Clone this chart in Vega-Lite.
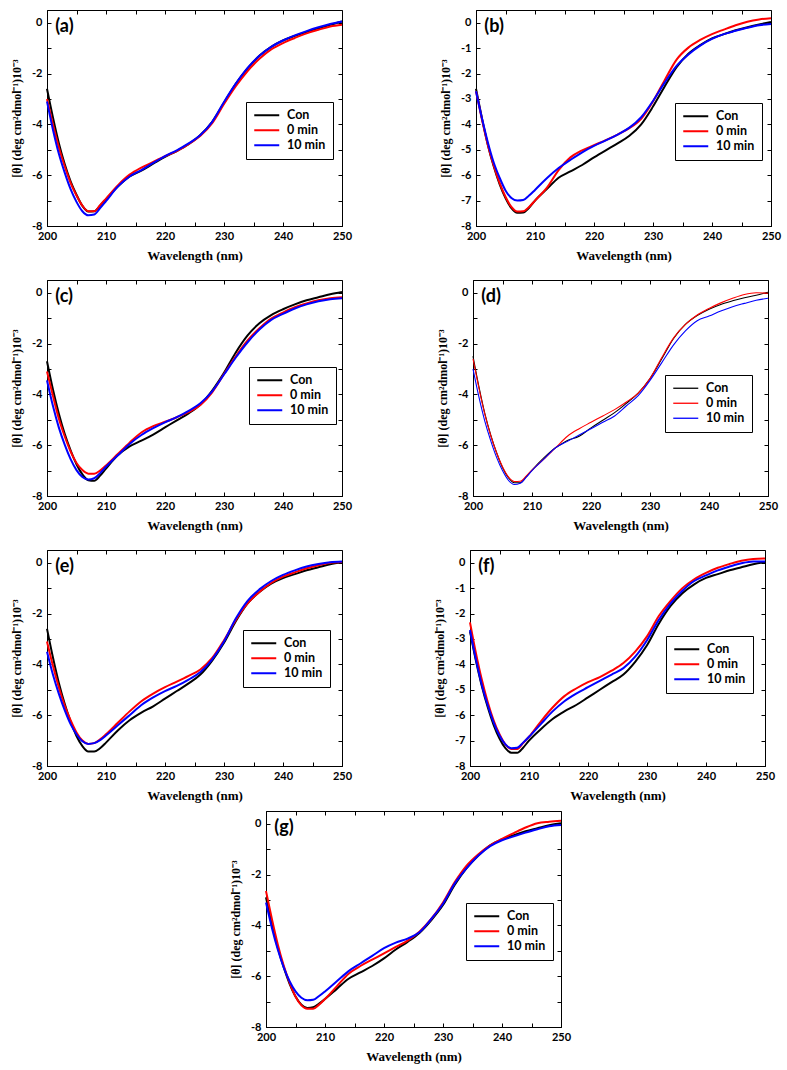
{
"$schema":"https://vega.github.io/schema/vega-lite/v6.json",
"padding":{"left":10,"top":9,"right":5,"bottom":5},
"background":"white",
"config":{
 "view":{"stroke":"black","strokeWidth":1},
 "axis":{"grid":false,"labelFlush":false,"domainColor":"black","domainWidth":1,"tickColor":"black","tickSize":-4,"tickWidth":1,"labelColor":"black","labelFont":"Lato","labelFontWeight":"bold","labelFontSize":11,"labelPadding":8,"titleFont":"Liberation Serif","titleFontWeight":"bold","titleColor":"black"},
 "axisX":{"titleFontSize":13,"titlePadding":8},
 "axisY":{"titleFontSize":12,"titlePadding":8,"labelPadding":9},
 "legend":{"strokeColor":"black","padding":7,"symbolType":"M-2.5,0H2.5","symbolSize":100,"symbolOffset":7.5,"symbolStrokeWidth":2,"labelFont":"Lato","labelFontWeight":"bold","labelFontSize":12.5,"labelColor":"black","labelOffset":14,"rowPadding":2},
 "text":{"font":"Lato","fontWeight":"bold","fontSize":18,"align":"left","baseline":"middle","color":"black"}
},
"datasets":{
"a":[
{"s":"Con","w":200,"v":-2.6},{"s":"Con","w":201,"v":-3.72},{"s":"Con","w":202,"v":-4.73},{"s":"Con","w":203,"v":-5.56},{"s":"Con","w":204,"v":-6.24},{"s":"Con","w":205,"v":-6.77},{"s":"Con","w":206,"v":-7.21},{"s":"Con","w":207,"v":-7.43},{"s":"Con","w":208,"v":-7.42},{"s":"Con","w":209,"v":-7.2},{"s":"Con","w":210,"v":-6.95},{"s":"Con","w":212,"v":-6.45},{"s":"Con","w":214,"v":-6.05},{"s":"Con","w":216,"v":-5.82},{"s":"Con","w":218,"v":-5.55},{"s":"Con","w":220,"v":-5.28},{"s":"Con","w":222,"v":-5.05},{"s":"Con","w":224,"v":-4.78},{"s":"Con","w":226,"v":-4.42},{"s":"Con","w":228,"v":-3.9},{"s":"Con","w":230,"v":-3.15},{"s":"Con","w":232,"v":-2.4},{"s":"Con","w":234,"v":-1.8},{"s":"Con","w":236,"v":-1.3},{"s":"Con","w":238,"v":-0.95},{"s":"Con","w":240,"v":-0.7},{"s":"Con","w":242,"v":-0.52},{"s":"Con","w":244,"v":-0.36},{"s":"Con","w":246,"v":-0.22},{"s":"Con","w":248,"v":-0.08},{"s":"Con","w":250,"v":0.05},
{"s":"0 min","w":200,"v":-3.0},{"s":"0 min","w":201,"v":-4.0},{"s":"0 min","w":202,"v":-4.9},{"s":"0 min","w":203,"v":-5.65},{"s":"0 min","w":204,"v":-6.3},{"s":"0 min","w":205,"v":-6.8},{"s":"0 min","w":206,"v":-7.2},{"s":"0 min","w":207,"v":-7.42},{"s":"0 min","w":208,"v":-7.42},{"s":"0 min","w":209,"v":-7.18},{"s":"0 min","w":210,"v":-6.92},{"s":"0 min","w":212,"v":-6.4},{"s":"0 min","w":214,"v":-5.98},{"s":"0 min","w":216,"v":-5.7},{"s":"0 min","w":218,"v":-5.48},{"s":"0 min","w":220,"v":-5.25},{"s":"0 min","w":222,"v":-5.05},{"s":"0 min","w":224,"v":-4.78},{"s":"0 min","w":226,"v":-4.45},{"s":"0 min","w":228,"v":-3.95},{"s":"0 min","w":230,"v":-3.2},{"s":"0 min","w":232,"v":-2.5},{"s":"0 min","w":234,"v":-1.9},{"s":"0 min","w":236,"v":-1.42},{"s":"0 min","w":238,"v":-1.05},{"s":"0 min","w":240,"v":-0.8},{"s":"0 min","w":242,"v":-0.6},{"s":"0 min","w":244,"v":-0.42},{"s":"0 min","w":246,"v":-0.28},{"s":"0 min","w":248,"v":-0.15},{"s":"0 min","w":250,"v":-0.08},
{"s":"10 min","w":200,"v":-3.1},{"s":"10 min","w":201,"v":-4.2},{"s":"10 min","w":202,"v":-5.15},{"s":"10 min","w":203,"v":-5.9},{"s":"10 min","w":204,"v":-6.55},{"s":"10 min","w":205,"v":-7.05},{"s":"10 min","w":206,"v":-7.42},{"s":"10 min","w":207,"v":-7.58},{"s":"10 min","w":208,"v":-7.55},{"s":"10 min","w":209,"v":-7.3},{"s":"10 min","w":210,"v":-7.02},{"s":"10 min","w":212,"v":-6.45},{"s":"10 min","w":214,"v":-6.05},{"s":"10 min","w":216,"v":-5.8},{"s":"10 min","w":218,"v":-5.52},{"s":"10 min","w":220,"v":-5.25},{"s":"10 min","w":222,"v":-5.02},{"s":"10 min","w":224,"v":-4.75},{"s":"10 min","w":226,"v":-4.42},{"s":"10 min","w":228,"v":-3.9},{"s":"10 min","w":230,"v":-3.12},{"s":"10 min","w":232,"v":-2.4},{"s":"10 min","w":234,"v":-1.78},{"s":"10 min","w":236,"v":-1.3},{"s":"10 min","w":238,"v":-0.95},{"s":"10 min","w":240,"v":-0.7},{"s":"10 min","w":242,"v":-0.5},{"s":"10 min","w":244,"v":-0.33},{"s":"10 min","w":246,"v":-0.18},{"s":"10 min","w":248,"v":-0.05},{"s":"10 min","w":250,"v":0.05}
],
"b":[
{"s":"Con","w":200,"v":-2.6},{"s":"Con","w":201,"v":-3.75},{"s":"Con","w":202,"v":-4.8},{"s":"Con","w":203,"v":-5.65},{"s":"Con","w":204,"v":-6.35},{"s":"Con","w":205,"v":-6.9},{"s":"Con","w":206,"v":-7.3},{"s":"Con","w":207,"v":-7.48},{"s":"Con","w":208,"v":-7.47},{"s":"Con","w":209,"v":-7.28},{"s":"Con","w":210,"v":-7.0},{"s":"Con","w":212,"v":-6.55},{"s":"Con","w":214,"v":-6.1},{"s":"Con","w":216,"v":-5.85},{"s":"Con","w":218,"v":-5.6},{"s":"Con","w":220,"v":-5.3},{"s":"Con","w":222,"v":-5.02},{"s":"Con","w":224,"v":-4.75},{"s":"Con","w":226,"v":-4.45},{"s":"Con","w":228,"v":-4.0},{"s":"Con","w":230,"v":-3.3},{"s":"Con","w":232,"v":-2.5},{"s":"Con","w":234,"v":-1.75},{"s":"Con","w":236,"v":-1.22},{"s":"Con","w":238,"v":-0.88},{"s":"Con","w":240,"v":-0.62},{"s":"Con","w":242,"v":-0.45},{"s":"Con","w":244,"v":-0.3},{"s":"Con","w":246,"v":-0.18},{"s":"Con","w":248,"v":-0.07},{"s":"Con","w":250,"v":0.03},
{"s":"0 min","w":200,"v":-2.7},{"s":"0 min","w":201,"v":-3.8},{"s":"0 min","w":202,"v":-4.8},{"s":"0 min","w":203,"v":-5.62},{"s":"0 min","w":204,"v":-6.3},{"s":"0 min","w":205,"v":-6.85},{"s":"0 min","w":206,"v":-7.25},{"s":"0 min","w":207,"v":-7.43},{"s":"0 min","w":208,"v":-7.42},{"s":"0 min","w":209,"v":-7.25},{"s":"0 min","w":210,"v":-7.0},{"s":"0 min","w":212,"v":-6.5},{"s":"0 min","w":214,"v":-5.8},{"s":"0 min","w":216,"v":-5.3},{"s":"0 min","w":218,"v":-5.02},{"s":"0 min","w":220,"v":-4.82},{"s":"0 min","w":222,"v":-4.62},{"s":"0 min","w":224,"v":-4.4},{"s":"0 min","w":226,"v":-4.15},{"s":"0 min","w":228,"v":-3.78},{"s":"0 min","w":230,"v":-3.1},{"s":"0 min","w":232,"v":-2.25},{"s":"0 min","w":234,"v":-1.45},{"s":"0 min","w":236,"v":-0.98},{"s":"0 min","w":238,"v":-0.68},{"s":"0 min","w":240,"v":-0.45},{"s":"0 min","w":242,"v":-0.27},{"s":"0 min","w":244,"v":-0.1},{"s":"0 min","w":246,"v":0.04},{"s":"0 min","w":248,"v":0.13},{"s":"0 min","w":250,"v":0.18},
{"s":"10 min","w":200,"v":-2.7},{"s":"10 min","w":201,"v":-3.75},{"s":"10 min","w":202,"v":-4.7},{"s":"10 min","w":203,"v":-5.5},{"s":"10 min","w":204,"v":-6.1},{"s":"10 min","w":205,"v":-6.6},{"s":"10 min","w":206,"v":-6.9},{"s":"10 min","w":207,"v":-7.0},{"s":"10 min","w":208,"v":-6.98},{"s":"10 min","w":209,"v":-6.8},{"s":"10 min","w":210,"v":-6.58},{"s":"10 min","w":212,"v":-6.12},{"s":"10 min","w":214,"v":-5.72},{"s":"10 min","w":216,"v":-5.4},{"s":"10 min","w":218,"v":-5.1},{"s":"10 min","w":220,"v":-4.85},{"s":"10 min","w":222,"v":-4.63},{"s":"10 min","w":224,"v":-4.4},{"s":"10 min","w":226,"v":-4.13},{"s":"10 min","w":228,"v":-3.72},{"s":"10 min","w":230,"v":-3.08},{"s":"10 min","w":232,"v":-2.35},{"s":"10 min","w":234,"v":-1.7},{"s":"10 min","w":236,"v":-1.25},{"s":"10 min","w":238,"v":-0.9},{"s":"10 min","w":240,"v":-0.64},{"s":"10 min","w":242,"v":-0.45},{"s":"10 min","w":244,"v":-0.32},{"s":"10 min","w":246,"v":-0.2},{"s":"10 min","w":248,"v":-0.1},{"s":"10 min","w":250,"v":-0.05}
],
"c":[
{"s":"Con","w":200,"v":-2.7},{"s":"Con","w":201,"v":-3.8},{"s":"Con","w":202,"v":-4.75},{"s":"Con","w":203,"v":-5.55},{"s":"Con","w":204,"v":-6.2},{"s":"Con","w":205,"v":-6.75},{"s":"Con","w":206,"v":-7.15},{"s":"Con","w":207,"v":-7.38},{"s":"Con","w":208,"v":-7.4},{"s":"Con","w":209,"v":-7.2},{"s":"Con","w":210,"v":-6.92},{"s":"Con","w":212,"v":-6.4},{"s":"Con","w":214,"v":-6.05},{"s":"Con","w":216,"v":-5.82},{"s":"Con","w":218,"v":-5.58},{"s":"Con","w":220,"v":-5.3},{"s":"Con","w":222,"v":-5.02},{"s":"Con","w":224,"v":-4.75},{"s":"Con","w":226,"v":-4.4},{"s":"Con","w":228,"v":-3.85},{"s":"Con","w":230,"v":-3.15},{"s":"Con","w":232,"v":-2.35},{"s":"Con","w":234,"v":-1.68},{"s":"Con","w":236,"v":-1.2},{"s":"Con","w":238,"v":-0.88},{"s":"Con","w":240,"v":-0.65},{"s":"Con","w":242,"v":-0.46},{"s":"Con","w":244,"v":-0.3},{"s":"Con","w":246,"v":-0.18},{"s":"Con","w":248,"v":-0.06},{"s":"Con","w":250,"v":0.03},
{"s":"0 min","w":200,"v":-3.1},{"s":"0 min","w":201,"v":-4.05},{"s":"0 min","w":202,"v":-4.95},{"s":"0 min","w":203,"v":-5.65},{"s":"0 min","w":204,"v":-6.25},{"s":"0 min","w":205,"v":-6.7},{"s":"0 min","w":206,"v":-6.98},{"s":"0 min","w":207,"v":-7.12},{"s":"0 min","w":208,"v":-7.12},{"s":"0 min","w":209,"v":-7.0},{"s":"0 min","w":210,"v":-6.8},{"s":"0 min","w":212,"v":-6.35},{"s":"0 min","w":214,"v":-5.9},{"s":"0 min","w":216,"v":-5.5},{"s":"0 min","w":218,"v":-5.25},{"s":"0 min","w":220,"v":-5.08},{"s":"0 min","w":222,"v":-4.9},{"s":"0 min","w":224,"v":-4.7},{"s":"0 min","w":226,"v":-4.42},{"s":"0 min","w":228,"v":-3.92},{"s":"0 min","w":230,"v":-3.2},{"s":"0 min","w":232,"v":-2.5},{"s":"0 min","w":234,"v":-1.88},{"s":"0 min","w":236,"v":-1.4},{"s":"0 min","w":238,"v":-1.02},{"s":"0 min","w":240,"v":-0.78},{"s":"0 min","w":242,"v":-0.57},{"s":"0 min","w":244,"v":-0.42},{"s":"0 min","w":246,"v":-0.3},{"s":"0 min","w":248,"v":-0.22},{"s":"0 min","w":250,"v":-0.18},
{"s":"10 min","w":200,"v":-3.45},{"s":"10 min","w":201,"v":-4.45},{"s":"10 min","w":202,"v":-5.3},{"s":"10 min","w":203,"v":-5.98},{"s":"10 min","w":204,"v":-6.55},{"s":"10 min","w":205,"v":-6.98},{"s":"10 min","w":206,"v":-7.25},{"s":"10 min","w":207,"v":-7.35},{"s":"10 min","w":208,"v":-7.3},{"s":"10 min","w":209,"v":-7.1},{"s":"10 min","w":210,"v":-6.85},{"s":"10 min","w":212,"v":-6.4},{"s":"10 min","w":214,"v":-5.95},{"s":"10 min","w":216,"v":-5.6},{"s":"10 min","w":218,"v":-5.33},{"s":"10 min","w":220,"v":-5.1},{"s":"10 min","w":222,"v":-4.9},{"s":"10 min","w":224,"v":-4.65},{"s":"10 min","w":226,"v":-4.35},{"s":"10 min","w":228,"v":-3.88},{"s":"10 min","w":230,"v":-3.22},{"s":"10 min","w":232,"v":-2.55},{"s":"10 min","w":234,"v":-1.95},{"s":"10 min","w":236,"v":-1.45},{"s":"10 min","w":238,"v":-1.07},{"s":"10 min","w":240,"v":-0.83},{"s":"10 min","w":242,"v":-0.62},{"s":"10 min","w":244,"v":-0.46},{"s":"10 min","w":246,"v":-0.34},{"s":"10 min","w":248,"v":-0.26},{"s":"10 min","w":250,"v":-0.22}
],
"d":[
{"s":"Con","w":200,"v":-2.5},{"s":"Con","w":201,"v":-3.7},{"s":"Con","w":202,"v":-4.75},{"s":"Con","w":203,"v":-5.6},{"s":"Con","w":204,"v":-6.3},{"s":"Con","w":205,"v":-6.88},{"s":"Con","w":206,"v":-7.28},{"s":"Con","w":207,"v":-7.48},{"s":"Con","w":208,"v":-7.48},{"s":"Con","w":209,"v":-7.25},{"s":"Con","w":210,"v":-6.98},{"s":"Con","w":212,"v":-6.5},{"s":"Con","w":214,"v":-6.1},{"s":"Con","w":215,"v":-5.95},{"s":"Con","w":216,"v":-5.82},{"s":"Con","w":218,"v":-5.65},{"s":"Con","w":220,"v":-5.32},{"s":"Con","w":222,"v":-5.02},{"s":"Con","w":224,"v":-4.72},{"s":"Con","w":226,"v":-4.35},{"s":"Con","w":228,"v":-3.95},{"s":"Con","w":230,"v":-3.38},{"s":"Con","w":232,"v":-2.6},{"s":"Con","w":234,"v":-1.8},{"s":"Con","w":236,"v":-1.25},{"s":"Con","w":238,"v":-0.9},{"s":"Con","w":240,"v":-0.65},{"s":"Con","w":242,"v":-0.46},{"s":"Con","w":244,"v":-0.32},{"s":"Con","w":246,"v":-0.2},{"s":"Con","w":248,"v":-0.1},{"s":"Con","w":250,"v":0.02},
{"s":"0 min","w":200,"v":-2.6},{"s":"0 min","w":201,"v":-3.75},{"s":"0 min","w":202,"v":-4.78},{"s":"0 min","w":203,"v":-5.62},{"s":"0 min","w":204,"v":-6.3},{"s":"0 min","w":205,"v":-6.85},{"s":"0 min","w":206,"v":-7.25},{"s":"0 min","w":207,"v":-7.43},{"s":"0 min","w":208,"v":-7.42},{"s":"0 min","w":209,"v":-7.22},{"s":"0 min","w":210,"v":-6.98},{"s":"0 min","w":212,"v":-6.55},{"s":"0 min","w":214,"v":-6.1},{"s":"0 min","w":216,"v":-5.65},{"s":"0 min","w":218,"v":-5.35},{"s":"0 min","w":220,"v":-5.1},{"s":"0 min","w":222,"v":-4.85},{"s":"0 min","w":224,"v":-4.6},{"s":"0 min","w":226,"v":-4.3},{"s":"0 min","w":228,"v":-3.95},{"s":"0 min","w":230,"v":-3.38},{"s":"0 min","w":232,"v":-2.55},{"s":"0 min","w":234,"v":-1.78},{"s":"0 min","w":236,"v":-1.25},{"s":"0 min","w":238,"v":-0.88},{"s":"0 min","w":240,"v":-0.62},{"s":"0 min","w":242,"v":-0.4},{"s":"0 min","w":244,"v":-0.22},{"s":"0 min","w":246,"v":-0.07},{"s":"0 min","w":248,"v":0.0},{"s":"0 min","w":250,"v":-0.02},
{"s":"10 min","w":200,"v":-3.0},{"s":"10 min","w":201,"v":-4.1},{"s":"10 min","w":202,"v":-5.05},{"s":"10 min","w":203,"v":-5.82},{"s":"10 min","w":204,"v":-6.48},{"s":"10 min","w":205,"v":-7.0},{"s":"10 min","w":206,"v":-7.38},{"s":"10 min","w":207,"v":-7.55},{"s":"10 min","w":208,"v":-7.5},{"s":"10 min","w":209,"v":-7.27},{"s":"10 min","w":210,"v":-7.0},{"s":"10 min","w":212,"v":-6.55},{"s":"10 min","w":214,"v":-6.1},{"s":"10 min","w":216,"v":-5.85},{"s":"10 min","w":218,"v":-5.6},{"s":"10 min","w":220,"v":-5.35},{"s":"10 min","w":222,"v":-5.1},{"s":"10 min","w":224,"v":-4.85},{"s":"10 min","w":226,"v":-4.45},{"s":"10 min","w":228,"v":-4.05},{"s":"10 min","w":230,"v":-3.45},{"s":"10 min","w":232,"v":-2.75},{"s":"10 min","w":234,"v":-2.05},{"s":"10 min","w":236,"v":-1.5},{"s":"10 min","w":238,"v":-1.1},{"s":"10 min","w":240,"v":-0.92},{"s":"10 min","w":242,"v":-0.72},{"s":"10 min","w":244,"v":-0.55},{"s":"10 min","w":246,"v":-0.42},{"s":"10 min","w":248,"v":-0.3},{"s":"10 min","w":250,"v":-0.22}
],
"e":[
{"s":"Con","w":200,"v":-2.6},{"s":"Con","w":201,"v":-3.72},{"s":"Con","w":202,"v":-4.72},{"s":"Con","w":203,"v":-5.55},{"s":"Con","w":204,"v":-6.25},{"s":"Con","w":205,"v":-6.82},{"s":"Con","w":206,"v":-7.22},{"s":"Con","w":207,"v":-7.43},{"s":"Con","w":208,"v":-7.43},{"s":"Con","w":209,"v":-7.3},{"s":"Con","w":210,"v":-7.08},{"s":"Con","w":212,"v":-6.6},{"s":"Con","w":214,"v":-6.2},{"s":"Con","w":216,"v":-5.9},{"s":"Con","w":218,"v":-5.65},{"s":"Con","w":220,"v":-5.35},{"s":"Con","w":222,"v":-5.05},{"s":"Con","w":224,"v":-4.75},{"s":"Con","w":226,"v":-4.4},{"s":"Con","w":228,"v":-3.85},{"s":"Con","w":230,"v":-3.15},{"s":"Con","w":232,"v":-2.3},{"s":"Con","w":234,"v":-1.6},{"s":"Con","w":236,"v":-1.15},{"s":"Con","w":238,"v":-0.82},{"s":"Con","w":240,"v":-0.6},{"s":"Con","w":242,"v":-0.45},{"s":"Con","w":244,"v":-0.3},{"s":"Con","w":246,"v":-0.18},{"s":"Con","w":248,"v":-0.06},{"s":"Con","w":250,"v":0.03},
{"s":"0 min","w":200,"v":-3.1},{"s":"0 min","w":201,"v":-4.05},{"s":"0 min","w":202,"v":-4.9},{"s":"0 min","w":203,"v":-5.62},{"s":"0 min","w":204,"v":-6.2},{"s":"0 min","w":205,"v":-6.68},{"s":"0 min","w":206,"v":-7.0},{"s":"0 min","w":207,"v":-7.13},{"s":"0 min","w":208,"v":-7.1},{"s":"0 min","w":209,"v":-6.95},{"s":"0 min","w":210,"v":-6.75},{"s":"0 min","w":212,"v":-6.3},{"s":"0 min","w":214,"v":-5.85},{"s":"0 min","w":216,"v":-5.45},{"s":"0 min","w":218,"v":-5.15},{"s":"0 min","w":220,"v":-4.9},{"s":"0 min","w":222,"v":-4.68},{"s":"0 min","w":224,"v":-4.45},{"s":"0 min","w":226,"v":-4.2},{"s":"0 min","w":228,"v":-3.75},{"s":"0 min","w":230,"v":-3.05},{"s":"0 min","w":232,"v":-2.25},{"s":"0 min","w":234,"v":-1.6},{"s":"0 min","w":236,"v":-1.15},{"s":"0 min","w":238,"v":-0.8},{"s":"0 min","w":240,"v":-0.55},{"s":"0 min","w":242,"v":-0.38},{"s":"0 min","w":244,"v":-0.22},{"s":"0 min","w":246,"v":-0.1},{"s":"0 min","w":248,"v":0.0},{"s":"0 min","w":250,"v":0.03},
{"s":"10 min","w":200,"v":-3.5},{"s":"10 min","w":201,"v":-4.4},{"s":"10 min","w":202,"v":-5.15},{"s":"10 min","w":203,"v":-5.8},{"s":"10 min","w":204,"v":-6.35},{"s":"10 min","w":205,"v":-6.75},{"s":"10 min","w":206,"v":-7.03},{"s":"10 min","w":207,"v":-7.13},{"s":"10 min","w":208,"v":-7.1},{"s":"10 min","w":209,"v":-6.98},{"s":"10 min","w":210,"v":-6.8},{"s":"10 min","w":212,"v":-6.4},{"s":"10 min","w":214,"v":-6.0},{"s":"10 min","w":216,"v":-5.6},{"s":"10 min","w":218,"v":-5.3},{"s":"10 min","w":220,"v":-5.05},{"s":"10 min","w":222,"v":-4.85},{"s":"10 min","w":224,"v":-4.6},{"s":"10 min","w":226,"v":-4.3},{"s":"10 min","w":228,"v":-3.8},{"s":"10 min","w":230,"v":-3.1},{"s":"10 min","w":232,"v":-2.2},{"s":"10 min","w":234,"v":-1.5},{"s":"10 min","w":236,"v":-1.05},{"s":"10 min","w":238,"v":-0.72},{"s":"10 min","w":240,"v":-0.48},{"s":"10 min","w":242,"v":-0.3},{"s":"10 min","w":244,"v":-0.15},{"s":"10 min","w":246,"v":-0.05},{"s":"10 min","w":248,"v":0.02},{"s":"10 min","w":250,"v":0.05}
],
"f":[
{"s":"Con","w":200,"v":-2.7},{"s":"Con","w":201,"v":-3.85},{"s":"Con","w":202,"v":-4.85},{"s":"Con","w":203,"v":-5.68},{"s":"Con","w":204,"v":-6.38},{"s":"Con","w":205,"v":-6.92},{"s":"Con","w":206,"v":-7.3},{"s":"Con","w":207,"v":-7.48},{"s":"Con","w":208,"v":-7.48},{"s":"Con","w":209,"v":-7.28},{"s":"Con","w":210,"v":-7.0},{"s":"Con","w":212,"v":-6.55},{"s":"Con","w":214,"v":-6.15},{"s":"Con","w":216,"v":-5.85},{"s":"Con","w":218,"v":-5.6},{"s":"Con","w":220,"v":-5.3},{"s":"Con","w":222,"v":-5.0},{"s":"Con","w":224,"v":-4.7},{"s":"Con","w":226,"v":-4.4},{"s":"Con","w":228,"v":-3.9},{"s":"Con","w":230,"v":-3.25},{"s":"Con","w":232,"v":-2.4},{"s":"Con","w":234,"v":-1.7},{"s":"Con","w":236,"v":-1.2},{"s":"Con","w":238,"v":-0.85},{"s":"Con","w":240,"v":-0.6},{"s":"Con","w":242,"v":-0.45},{"s":"Con","w":244,"v":-0.3},{"s":"Con","w":246,"v":-0.18},{"s":"Con","w":248,"v":-0.06},{"s":"Con","w":250,"v":0.02},
{"s":"0 min","w":200,"v":-2.35},{"s":"0 min","w":201,"v":-3.55},{"s":"0 min","w":202,"v":-4.6},{"s":"0 min","w":203,"v":-5.48},{"s":"0 min","w":204,"v":-6.2},{"s":"0 min","w":205,"v":-6.75},{"s":"0 min","w":206,"v":-7.15},{"s":"0 min","w":207,"v":-7.33},{"s":"0 min","w":208,"v":-7.33},{"s":"0 min","w":209,"v":-7.1},{"s":"0 min","w":210,"v":-6.85},{"s":"0 min","w":212,"v":-6.25},{"s":"0 min","w":214,"v":-5.7},{"s":"0 min","w":216,"v":-5.25},{"s":"0 min","w":218,"v":-4.95},{"s":"0 min","w":220,"v":-4.7},{"s":"0 min","w":222,"v":-4.5},{"s":"0 min","w":224,"v":-4.25},{"s":"0 min","w":226,"v":-3.95},{"s":"0 min","w":228,"v":-3.5},{"s":"0 min","w":230,"v":-2.9},{"s":"0 min","w":232,"v":-2.1},{"s":"0 min","w":234,"v":-1.5},{"s":"0 min","w":236,"v":-1.0},{"s":"0 min","w":238,"v":-0.65},{"s":"0 min","w":240,"v":-0.4},{"s":"0 min","w":242,"v":-0.2},{"s":"0 min","w":244,"v":-0.05},{"s":"0 min","w":246,"v":0.08},{"s":"0 min","w":248,"v":0.15},{"s":"0 min","w":250,"v":0.17},
{"s":"10 min","w":200,"v":-2.65},{"s":"10 min","w":201,"v":-3.8},{"s":"10 min","w":202,"v":-4.8},{"s":"10 min","w":203,"v":-5.6},{"s":"10 min","w":204,"v":-6.28},{"s":"10 min","w":205,"v":-6.8},{"s":"10 min","w":206,"v":-7.15},{"s":"10 min","w":207,"v":-7.3},{"s":"10 min","w":208,"v":-7.28},{"s":"10 min","w":209,"v":-7.08},{"s":"10 min","w":210,"v":-6.85},{"s":"10 min","w":212,"v":-6.35},{"s":"10 min","w":214,"v":-5.85},{"s":"10 min","w":216,"v":-5.45},{"s":"10 min","w":218,"v":-5.15},{"s":"10 min","w":220,"v":-4.9},{"s":"10 min","w":222,"v":-4.65},{"s":"10 min","w":224,"v":-4.4},{"s":"10 min","w":226,"v":-4.15},{"s":"10 min","w":228,"v":-3.7},{"s":"10 min","w":230,"v":-3.05},{"s":"10 min","w":232,"v":-2.25},{"s":"10 min","w":234,"v":-1.6},{"s":"10 min","w":236,"v":-1.1},{"s":"10 min","w":238,"v":-0.72},{"s":"10 min","w":240,"v":-0.5},{"s":"10 min","w":242,"v":-0.3},{"s":"10 min","w":244,"v":-0.15},{"s":"10 min","w":246,"v":-0.02},{"s":"10 min","w":248,"v":0.05},{"s":"10 min","w":250,"v":0.05}
],
"g":[
{"s":"Con","w":200,"v":-2.9},{"s":"Con","w":201,"v":-3.95},{"s":"Con","w":202,"v":-4.88},{"s":"Con","w":203,"v":-5.65},{"s":"Con","w":204,"v":-6.3},{"s":"Con","w":205,"v":-6.8},{"s":"Con","w":206,"v":-7.12},{"s":"Con","w":207,"v":-7.25},{"s":"Con","w":208,"v":-7.22},{"s":"Con","w":209,"v":-7.08},{"s":"Con","w":210,"v":-6.9},{"s":"Con","w":212,"v":-6.5},{"s":"Con","w":214,"v":-6.1},{"s":"Con","w":216,"v":-5.85},{"s":"Con","w":218,"v":-5.6},{"s":"Con","w":220,"v":-5.3},{"s":"Con","w":222,"v":-4.95},{"s":"Con","w":224,"v":-4.65},{"s":"Con","w":226,"v":-4.3},{"s":"Con","w":228,"v":-3.8},{"s":"Con","w":230,"v":-3.2},{"s":"Con","w":232,"v":-2.4},{"s":"Con","w":234,"v":-1.75},{"s":"Con","w":236,"v":-1.25},{"s":"Con","w":238,"v":-0.85},{"s":"Con","w":240,"v":-0.62},{"s":"Con","w":242,"v":-0.45},{"s":"Con","w":244,"v":-0.3},{"s":"Con","w":246,"v":-0.18},{"s":"Con","w":248,"v":-0.06},{"s":"Con","w":250,"v":0.02},
{"s":"0 min","w":200,"v":-2.65},{"s":"0 min","w":201,"v":-3.75},{"s":"0 min","w":202,"v":-4.75},{"s":"0 min","w":203,"v":-5.58},{"s":"0 min","w":204,"v":-6.25},{"s":"0 min","w":205,"v":-6.8},{"s":"0 min","w":206,"v":-7.15},{"s":"0 min","w":207,"v":-7.28},{"s":"0 min","w":208,"v":-7.28},{"s":"0 min","w":209,"v":-7.12},{"s":"0 min","w":210,"v":-6.9},{"s":"0 min","w":212,"v":-6.4},{"s":"0 min","w":214,"v":-5.9},{"s":"0 min","w":216,"v":-5.6},{"s":"0 min","w":218,"v":-5.35},{"s":"0 min","w":220,"v":-5.1},{"s":"0 min","w":222,"v":-4.85},{"s":"0 min","w":224,"v":-4.6},{"s":"0 min","w":226,"v":-4.25},{"s":"0 min","w":228,"v":-3.75},{"s":"0 min","w":230,"v":-3.1},{"s":"0 min","w":232,"v":-2.3},{"s":"0 min","w":234,"v":-1.65},{"s":"0 min","w":236,"v":-1.2},{"s":"0 min","w":238,"v":-0.85},{"s":"0 min","w":240,"v":-0.6},{"s":"0 min","w":242,"v":-0.37},{"s":"0 min","w":244,"v":-0.15},{"s":"0 min","w":246,"v":0.02},{"s":"0 min","w":248,"v":0.08},{"s":"0 min","w":250,"v":0.12},
{"s":"10 min","w":200,"v":-3.1},{"s":"10 min","w":201,"v":-4.1},{"s":"10 min","w":202,"v":-4.95},{"s":"10 min","w":203,"v":-5.65},{"s":"10 min","w":204,"v":-6.2},{"s":"10 min","w":205,"v":-6.6},{"s":"10 min","w":206,"v":-6.85},{"s":"10 min","w":207,"v":-6.95},{"s":"10 min","w":208,"v":-6.93},{"s":"10 min","w":209,"v":-6.78},{"s":"10 min","w":210,"v":-6.6},{"s":"10 min","w":212,"v":-6.2},{"s":"10 min","w":214,"v":-5.8},{"s":"10 min","w":216,"v":-5.5},{"s":"10 min","w":218,"v":-5.2},{"s":"10 min","w":220,"v":-4.9},{"s":"10 min","w":222,"v":-4.68},{"s":"10 min","w":224,"v":-4.52},{"s":"10 min","w":226,"v":-4.27},{"s":"10 min","w":228,"v":-3.75},{"s":"10 min","w":230,"v":-3.15},{"s":"10 min","w":232,"v":-2.35},{"s":"10 min","w":234,"v":-1.75},{"s":"10 min","w":236,"v":-1.25},{"s":"10 min","w":238,"v":-0.88},{"s":"10 min","w":240,"v":-0.65},{"s":"10 min","w":242,"v":-0.5},{"s":"10 min","w":244,"v":-0.35},{"s":"10 min","w":246,"v":-0.22},{"s":"10 min","w":248,"v":-0.1},{"s":"10 min","w":250,"v":-0.05}
]
},
"spacing":7,
"resolve":{"scale":{"color":"independent"}},
"vconcat":[
{"spacing":16,"resolve":{"scale":{"color":"independent"}},"vconcat":[
{"hconcat":[
 {"width":295,"height":216,"resolve":{"axis":{"x":"independent","y":"independent"}},"layer":[
  {"data":{"name":"a"},"mark":{"type":"line","strokeWidth":2,"interpolate":"monotone"},"encoding":{
   "x":{"field":"w","type":"quantitative","scale":{"domain":[200,250],"nice":false,"zero":false},"axis":{"title":"Wavelength (nm)","values":[200,205,210,215,220,225,230,235,240,245,250],"labelExpr":"datum.value % 10 === 0 ? datum.label : ''"}},
   "y":{"field":"v","type":"quantitative","scale":{"domain":[-8,0.5],"nice":false,"zero":false},"axis":{"title":"[θ] (deg cm²dmol⁻¹)10⁻³","values":[-8,-7,-6,-5,-4,-3,-2,-1,0],"labelExpr":"datum.value % 2 === 0 ? toString(datum.value) : ''"}},
   "color":{"field":"s","type":"nominal","scale":{"domain":["Con","0 min","10 min"],"range":["#000000","#ff0000","#0000ff"]},"legend":{"title":null,"orient":"none","legendX":199,"legendY":92}}}},
  {"data":{"values":[{"t":"(a)"}]},"mark":{"type":"text"},"encoding":{
   "x":{"datum":201.4,"type":"quantitative","axis":{"orient":"top","labels":false,"title":null,"domain":false,"values":[200,205,210,215,220,225,230,235,240,245,250]}},
   "y":{"datum":-0.18,"type":"quantitative","axis":{"orient":"right","labels":false,"title":null,"domain":false,"values":[-8,-7,-6,-5,-4,-3,-2,-1,0]}},
   "text":{"field":"t"}}}
 ]},
 {"width":295,"height":216,"resolve":{"axis":{"x":"independent","y":"independent"}},"layer":[
  {"data":{"name":"b"},"mark":{"type":"line","strokeWidth":2,"interpolate":"monotone"},"encoding":{
   "x":{"field":"w","type":"quantitative","scale":{"domain":[200,250],"nice":false,"zero":false},"axis":{"title":"Wavelength (nm)","values":[200,205,210,215,220,225,230,235,240,245,250],"labelExpr":"datum.value % 10 === 0 ? datum.label : ''"}},
   "y":{"field":"v","type":"quantitative","scale":{"domain":[-8,0.5],"nice":false,"zero":false},"axis":{"title":"[θ] (deg cm²dmol⁻¹)10⁻³","values":[-8,-7,-6,-5,-4,-3,-2,-1,0],"labelExpr":"toString(datum.value)"}},
   "color":{"field":"s","type":"nominal","scale":{"domain":["Con","0 min","10 min"],"range":["#000000","#ff0000","#0000ff"]},"legend":{"title":null,"orient":"none","legendX":199,"legendY":93}}}},
  {"data":{"values":[{"t":"(b)"}]},"mark":{"type":"text"},"encoding":{
   "x":{"datum":201.4,"type":"quantitative","axis":{"orient":"top","labels":false,"title":null,"domain":false,"values":[200,205,210,215,220,225,230,235,240,245,250]}},
   "y":{"datum":-0.18,"type":"quantitative","axis":{"orient":"right","labels":false,"title":null,"domain":false,"values":[-8,-7,-6,-5,-4,-3,-2,-1,0]}},
   "text":{"field":"t"}}}
 ]}
],"spacing":86,"resolve":{"scale":{"color":"independent"}}},
{"hconcat":[
 {"width":295,"height":216,"resolve":{"axis":{"x":"independent","y":"independent"}},"layer":[
  {"data":{"name":"c"},"mark":{"type":"line","strokeWidth":2,"interpolate":"monotone"},"encoding":{
   "x":{"field":"w","type":"quantitative","scale":{"domain":[200,250],"nice":false,"zero":false},"axis":{"title":"Wavelength (nm)","values":[200,205,210,215,220,225,230,235,240,245,250],"labelExpr":"datum.value % 10 === 0 ? datum.label : ''"}},
   "y":{"field":"v","type":"quantitative","scale":{"domain":[-8,0.5],"nice":false,"zero":false},"axis":{"title":"[θ] (deg cm²dmol⁻¹)10⁻³","values":[-8,-7,-6,-5,-4,-3,-2,-1,0],"labelExpr":"datum.value % 2 === 0 ? toString(datum.value) : ''"}},
   "color":{"field":"s","type":"nominal","scale":{"domain":["Con","0 min","10 min"],"range":["#000000","#ff0000","#0000ff"]},"legend":{"title":null,"orient":"none","legendX":202,"legendY":87}}}},
  {"data":{"values":[{"t":"(c)"}]},"mark":{"type":"text"},"encoding":{
   "x":{"datum":201.4,"type":"quantitative","axis":{"orient":"top","labels":false,"title":null,"domain":false,"values":[200,205,210,215,220,225,230,235,240,245,250]}},
   "y":{"datum":-0.18,"type":"quantitative","axis":{"orient":"right","labels":false,"title":null,"domain":false,"values":[-8,-7,-6,-5,-4,-3,-2,-1,0]}},
   "text":{"field":"t"}}}
 ]},
 {"width":295,"height":216,"resolve":{"axis":{"x":"independent","y":"independent"}},"layer":[
  {"data":{"name":"d"},"mark":{"type":"line","strokeWidth":1.1,"interpolate":"monotone"},"encoding":{
   "x":{"field":"w","type":"quantitative","scale":{"domain":[200,250],"nice":false,"zero":false},"axis":{"title":"Wavelength (nm)","values":[200,205,210,215,220,225,230,235,240,245,250],"labelExpr":"datum.value % 10 === 0 ? datum.label : ''"}},
   "y":{"field":"v","type":"quantitative","scale":{"domain":[-8,0.5],"nice":false,"zero":false},"axis":{"title":"[θ] (deg cm²dmol⁻¹)10⁻³","values":[-8,-7,-6,-5,-4,-3,-2,-1,0],"labelExpr":"datum.value % 2 === 0 ? toString(datum.value) : ''"}},
   "color":{"field":"s","type":"nominal","scale":{"domain":["Con","0 min","10 min"],"range":["#000000","#ff0000","#0000ff"]},"legend":{"title":null,"orient":"none","legendX":192,"legendY":95,"symbolStrokeWidth":1.3}}}},
  {"data":{"values":[{"t":"(d)"}]},"mark":{"type":"text"},"encoding":{
   "x":{"datum":201.4,"type":"quantitative","axis":{"orient":"top","labels":false,"title":null,"domain":false,"values":[200,205,210,215,220,225,230,235,240,245,250]}},
   "y":{"datum":-0.18,"type":"quantitative","axis":{"orient":"right","labels":false,"title":null,"domain":false,"values":[-8,-7,-6,-5,-4,-3,-2,-1,0]}},
   "text":{"field":"t"}}}
 ]}
],"spacing":83,"resolve":{"scale":{"color":"independent"}}},
{"hconcat":[
 {"width":295,"height":216,"resolve":{"axis":{"x":"independent","y":"independent"}},"layer":[
  {"data":{"name":"e"},"mark":{"type":"line","strokeWidth":2,"interpolate":"monotone"},"encoding":{
   "x":{"field":"w","type":"quantitative","scale":{"domain":[200,250],"nice":false,"zero":false},"axis":{"title":"Wavelength (nm)","values":[200,205,210,215,220,225,230,235,240,245,250],"labelExpr":"datum.value % 10 === 0 ? datum.label : ''"}},
   "y":{"field":"v","type":"quantitative","scale":{"domain":[-8,0.5],"nice":false,"zero":false},"axis":{"title":"[θ] (deg cm²dmol⁻¹)10⁻³","values":[-8,-7,-6,-5,-4,-3,-2,-1,0],"labelExpr":"datum.value % 2 === 0 ? toString(datum.value) : ''"}},
   "color":{"field":"s","type":"nominal","scale":{"domain":["Con","0 min","10 min"],"range":["#000000","#ff0000","#0000ff"]},"legend":{"title":null,"orient":"none","legendX":196,"legendY":80}}}},
  {"data":{"values":[{"t":"(e)"}]},"mark":{"type":"text"},"encoding":{
   "x":{"datum":201.4,"type":"quantitative","axis":{"orient":"top","labels":false,"title":null,"domain":false,"values":[200,205,210,215,220,225,230,235,240,245,250]}},
   "y":{"datum":-0.18,"type":"quantitative","axis":{"orient":"right","labels":false,"title":null,"domain":false,"values":[-8,-7,-6,-5,-4,-3,-2,-1,0]}},
   "text":{"field":"t"}}}
 ]},
 {"width":295,"height":216,"resolve":{"axis":{"x":"independent","y":"independent"}},"layer":[
  {"data":{"name":"f"},"mark":{"type":"line","strokeWidth":2,"interpolate":"monotone"},"encoding":{
   "x":{"field":"w","type":"quantitative","scale":{"domain":[200,250],"nice":false,"zero":false},"axis":{"title":"Wavelength (nm)","values":[200,205,210,215,220,225,230,235,240,245,250],"labelExpr":"datum.value % 10 === 0 ? datum.label : ''"}},
   "y":{"field":"v","type":"quantitative","scale":{"domain":[-8,0.5],"nice":false,"zero":false},"axis":{"title":"[θ] (deg cm²dmol⁻¹)10⁻³","values":[-8,-7,-6,-5,-4,-3,-2,-1,0],"labelExpr":"toString(datum.value)"}},
   "color":{"field":"s","type":"nominal","scale":{"domain":["Con","0 min","10 min"],"range":["#000000","#ff0000","#0000ff"]},"legend":{"title":null,"orient":"none","legendX":196,"legendY":86}}}},
  {"data":{"values":[{"t":"(f)"}]},"mark":{"type":"text"},"encoding":{
   "x":{"datum":201.4,"type":"quantitative","axis":{"orient":"top","labels":false,"title":null,"domain":false,"values":[200,205,210,215,220,225,230,235,240,245,250]}},
   "y":{"datum":-0.18,"type":"quantitative","axis":{"orient":"right","labels":false,"title":null,"domain":false,"values":[-8,-7,-6,-5,-4,-3,-2,-1,0]}},
   "text":{"field":"t"}}}
 ]}
],"spacing":80,"resolve":{"scale":{"color":"independent"}}}
]},
{"hconcat":[
 {"width":182,"height":10,"view":{"stroke":null},"data":{"values":[]},"mark":{"type":"point","opacity":0},"encoding":{}},
 {"width":295,"height":216,"resolve":{"axis":{"x":"independent","y":"independent"}},"layer":[
  {"data":{"name":"g"},"mark":{"type":"line","strokeWidth":2,"interpolate":"monotone"},"encoding":{
   "x":{"field":"w","type":"quantitative","scale":{"domain":[200,250],"nice":false,"zero":false},"axis":{"title":"Wavelength (nm)","values":[200,205,210,215,220,225,230,235,240,245,250],"labelExpr":"datum.value % 10 === 0 ? datum.label : ''"}},
   "y":{"field":"v","type":"quantitative","scale":{"domain":[-8,0.5],"nice":false,"zero":false},"axis":{"title":"[θ] (deg cm²dmol⁻¹)10⁻³","values":[-8,-7,-6,-5,-4,-3,-2,-1,0],"labelExpr":"datum.value % 2 === 0 ? toString(datum.value) : ''"}},
   "color":{"field":"s","type":"nominal","scale":{"domain":["Con","0 min","10 min"],"range":["#000000","#ff0000","#0000ff"]},"legend":{"title":null,"orient":"none","legendX":200,"legendY":92}}}},
  {"data":{"values":[{"t":"(g)"}]},"mark":{"type":"text"},"encoding":{
   "x":{"datum":201.4,"type":"quantitative","axis":{"orient":"top","labels":false,"title":null,"domain":false,"values":[200,205,210,215,220,225,230,235,240,245,250]}},
   "y":{"datum":-0.18,"type":"quantitative","axis":{"orient":"right","labels":false,"title":null,"domain":false,"values":[-8,-7,-6,-5,-4,-3,-2,-1,0]}},
   "text":{"field":"t"}}}
 ]}
],"spacing":0,"resolve":{"scale":{"color":"independent"}}}
]
}
